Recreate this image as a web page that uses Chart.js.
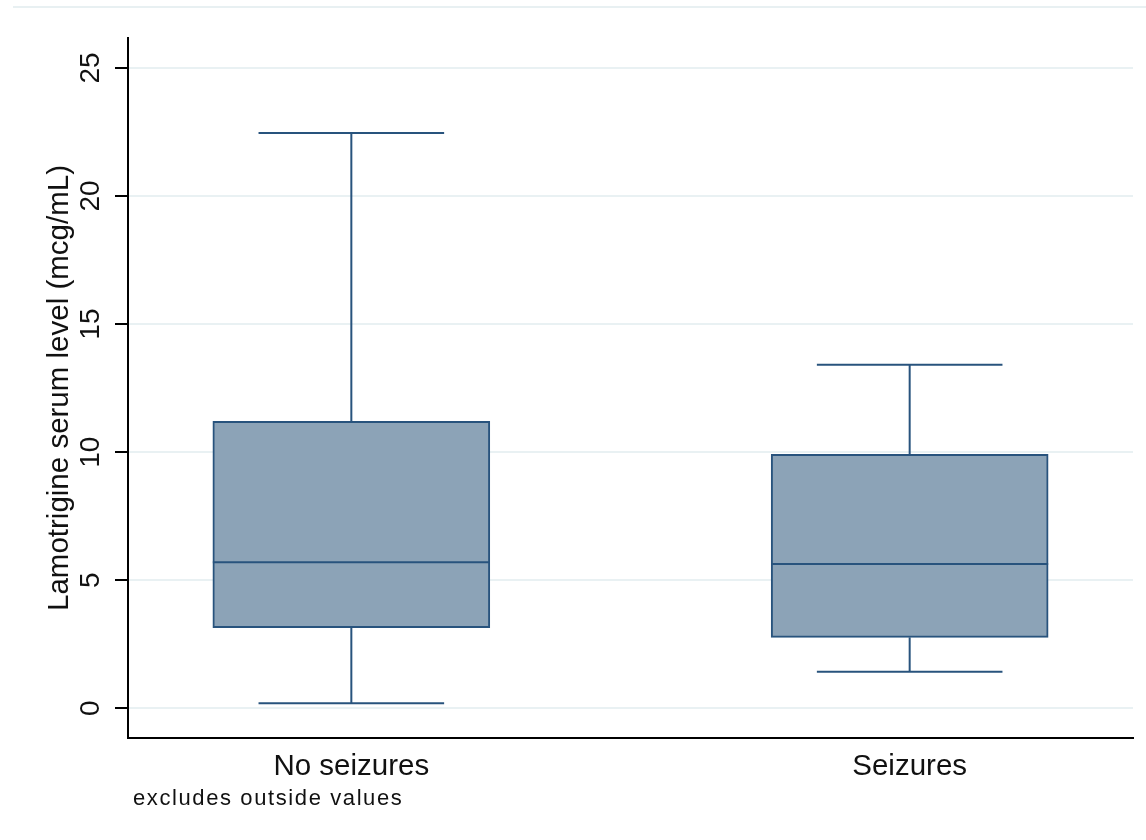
<!DOCTYPE html>
<html>
<head>
<meta charset="utf-8">
<script src="https://cdn.jsdelivr.net/npm/chart.js@4.4.1/dist/chart.umd.min.js"></script>
<style>
  html, body { margin: 0; padding: 0; background: #ffffff; }
  #wrap { width: 1146px; height: 840px; }
</style>
</head>
<body>
<div id="wrap"><canvas id="c" width="1146" height="840"></canvas></div>
<script>
// Box plot summary per group (adjacent values, quartiles, median)
const groups = ['No seizures', 'Seizures'];
const whiskerLow = [0.2, 1.43];
const quartile1 = [3.15, 2.77];
const medians = [5.70, 5.63];
const quartile3 = [11.2, 9.92];
const whiskerHigh = [22.46, 13.41];
const yTicks = [0, 5, 10, 15, 20, 25];
const yTitle = 'Lamotrigine serum level (mcg/mL)';
const footnote = 'excludes outside values';

const LINE = '#28537d';
const FILL = '#8ca3b7';
const TEXT = '#111111';
const FONT = "'Liberation Sans', Arial, sans-serif";

// Whiskers, caps and median lines, placed with the chart's own scales
const boxPlotMarks = {
  id: 'boxPlotMarks',
  beforeDraw(chart) {
    const ctx = chart.ctx;
    ctx.save();
    ctx.strokeStyle = '#e8f0f2';
    ctx.lineWidth = 2;
    ctx.beginPath();
    ctx.moveTo(13, 7);
    ctx.lineTo(chart.width, 7);
    ctx.stroke();
    ctx.restore();
  },
  afterDatasetsDraw(chart) {
    const { ctx, scales: { x, y } } = chart;
    const meta = chart.getDatasetMeta(0);
    ctx.save();
    ctx.strokeStyle = LINE;
    ctx.lineWidth = 2;
    const seg = (x1, y1, x2, y2) => {
      ctx.beginPath();
      ctx.moveTo(x1, y1);
      ctx.lineTo(x2, y2);
      ctx.stroke();
    };
    groups.forEach((g, i) => {
      const bar = meta.data[i];
      const cx = x.getPixelForValue(i);
      const half = bar.width / 2;
      const capHalf = half * 0.67;
      const yLo = y.getPixelForValue(whiskerLow[i]);
      const yQ1 = y.getPixelForValue(quartile1[i]);
      const yMed = y.getPixelForValue(medians[i]);
      const yQ3 = y.getPixelForValue(quartile3[i]);
      const yHi = y.getPixelForValue(whiskerHigh[i]);
      seg(cx, yQ3, cx, yHi);
      seg(cx - capHalf, yHi, cx + capHalf, yHi);
      seg(cx, yQ1, cx, yLo);
      seg(cx - capHalf, yLo, cx + capHalf, yLo);
      seg(cx - half, yMed, cx + half, yMed);
    });
    ctx.restore();
  },
  afterDraw(chart) {
    const ctx = chart.ctx;
    ctx.save();
    ctx.fillStyle = TEXT;
    ctx.font = "22px " + FONT;
    if ('letterSpacing' in ctx) ctx.letterSpacing = '1.6px';
    ctx.textBaseline = 'alphabetic';
    ctx.textAlign = 'left';
    ctx.fillText(footnote, 133, 805);
    ctx.restore();
  }
};

new Chart(document.getElementById('c'), {
  type: 'bar',
  data: {
    datasets: [{
      data: groups.map((g, i) => ({ x: i, y: [quartile1[i], quartile3[i]] })),
      backgroundColor: FILL,
      borderColor: LINE,
      borderWidth: 2,
      borderSkipped: false,
      barThickness: 277
    }]
  },
  options: {
    responsive: false,
    animation: false,
    events: [],
    layout: { padding: { top: 38, right: 13, left: 0, bottom: 0 } },
    plugins: { legend: { display: false }, tooltip: { enabled: false } },
    scales: {
      x: {
        type: 'linear',
        min: -0.4,
        max: 1.4,
        offset: false,
        afterFit(s) { s.height = 102; },
        afterBuildTicks(s) { s.ticks = groups.map((g, i) => ({ value: i })); },
        ticks: {
          autoSkip: false,
          maxRotation: 0,
          padding: 11,
          color: TEXT,
          font: { family: FONT, size: 29.5 },
          callback: (v) => groups[v] ?? ''
        },
        grid: { display: false, drawTicks: false },
        border: { display: true, color: '#000000', width: 2 }
      },
      y: {
        min: -1.16,
        max: 26.17,
        afterFit(s) { s.width = 128; },
        afterBuildTicks(s) { s.ticks = yTicks.map(v => ({ value: v })); },
        ticks: {
          minRotation: 90,
          maxRotation: 90,
          crossAlign: 'center',
          padding: 8,
          color: TEXT,
          font: { family: FONT, size: 28 }
        },
        grid: {
          color: '#e9f1f3',
          lineWidth: 2,
          drawTicks: true,
          tickColor: '#000000',
          tickLength: 13,
          tickWidth: 2
        },
        border: { display: true, color: '#000000', width: 2 },
        title: {
          display: true,
          text: yTitle,
          color: TEXT,
          font: { family: FONT, size: 29.5 },
          padding: { top: 42, bottom: 0 }
        }
      }
    }
  },
  plugins: [boxPlotMarks]
});
</script>
</body>
</html>
